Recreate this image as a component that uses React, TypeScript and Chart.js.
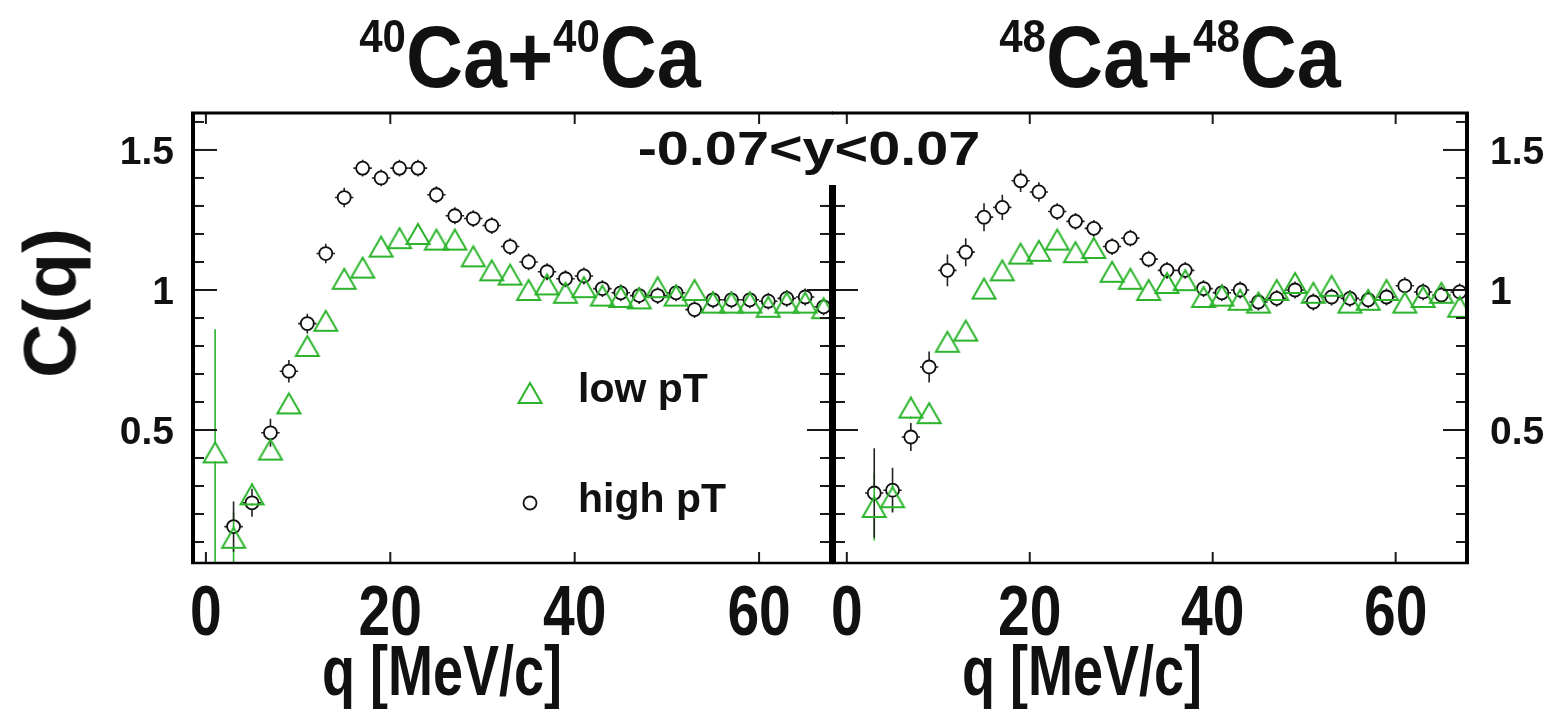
import React, { useEffect, useRef } from "react";
import { Chart, registerables } from "chart.js";
Chart.register(...registerables);

const FONT = '"Liberation Sans", Arial, Helvetica, sans-serif';
const GREEN = "#2bb42b";
const BLACK = "#111111";

// bin centres q [MeV/c]
const qAll = [1, 3, 5, 7, 9, 11, 13, 15, 17, 19, 21, 23, 25, 27, 29, 31, 33, 35, 37, 39, 41, 43, 45, 47, 49, 51, 53, 55, 57, 59, 61, 63, 65, 67];
const qFrom3 = [3, 5, 7, 9, 11, 13, 15, 17, 19, 21, 23, 25, 27, 29, 31, 33, 35, 37, 39, 41, 43, 45, 47, 49, 51, 53, 55, 57, 59, 61, 63, 65, 67];

// 40Ca+40Ca
const lowPt40 = [0.42, 0.115, 0.27, 0.43, 0.595, 0.8, 0.89, 1.04, 1.08, 1.155, 1.185, 1.2, 1.18, 1.18, 1.12, 1.07, 1.055, 1.0, 1.02, 0.99, 1.01, 0.98, 0.975, 0.97, 1.01, 0.98, 1.0, 0.955, 0.955, 0.955, 0.94, 0.955, 0.955, 0.935];
const lowPt40Err = [0.44, 0.09, 0.04, 0.03, 0.03, 0.025, 0.025, 0.02, 0.02, 0.02, 0.02, 0.02, 0.02, 0.02, 0.02, 0.02, 0.02, 0.02, 0.02, 0.02, 0.02, 0.02, 0.02, 0.02, 0.02, 0.02, 0.02, 0.02, 0.02, 0.02, 0.02, 0.02, 0.02, 0.02];
const highPt40 = [0.155, 0.24, 0.49, 0.71, 0.88, 1.13, 1.33, 1.435, 1.4, 1.435, 1.435, 1.34, 1.265, 1.255, 1.23, 1.155, 1.1, 1.065, 1.04, 1.05, 1.005, 0.99, 0.98, 0.98, 0.99, 0.93, 0.965, 0.965, 0.965, 0.96, 0.97, 0.975, 0.94];
const highPt40Err = [0.09, 0.05, 0.05, 0.04, 0.035, 0.035, 0.035, 0.03, 0.03, 0.03, 0.03, 0.03, 0.03, 0.03, 0.03, 0.03, 0.03, 0.03, 0.03, 0.03, 0.03, 0.03, 0.03, 0.03, 0.03, 0.03, 0.03, 0.03, 0.03, 0.03, 0.03, 0.03, 0.03];

// 48Ca+48Ca
const lowPt48 = [0.225, 0.26, 0.58, 0.56, 0.815, 0.855, 1.005, 1.07, 1.13, 1.14, 1.18, 1.135, 1.15, 1.065, 1.04, 1.0, 1.025, 1.035, 0.975, 0.98, 0.965, 0.955, 1.0, 1.025, 0.99, 1.015, 0.955, 0.965, 1.0, 0.955, 0.975, 0.99, 0.94];
const lowPt48Err = [0.12, 0.05, 0.04, 0.035, 0.03, 0.03, 0.025, 0.02, 0.02, 0.02, 0.02, 0.02, 0.02, 0.02, 0.02, 0.02, 0.02, 0.02, 0.02, 0.02, 0.02, 0.02, 0.02, 0.02, 0.02, 0.02, 0.02, 0.02, 0.02, 0.02, 0.02, 0.02, 0.02];
const highPt48 = [0.275, 0.285, 0.475, 0.725, 1.07, 1.135, 1.26, 1.295, 1.39, 1.35, 1.28, 1.245, 1.22, 1.155, 1.185, 1.11, 1.07, 1.07, 1.005, 0.99, 1.0, 0.957, 0.97, 1.0, 0.957, 0.975, 0.97, 0.965, 0.975, 1.015, 0.993, 0.982, 0.993];
const highPt48Err = [0.16, 0.08, 0.05, 0.055, 0.057, 0.05, 0.05, 0.045, 0.04, 0.035, 0.03, 0.03, 0.03, 0.03, 0.03, 0.03, 0.03, 0.03, 0.03, 0.03, 0.03, 0.03, 0.03, 0.03, 0.03, 0.03, 0.03, 0.03, 0.03, 0.03, 0.03, 0.03, 0.03];

// axes
const X_MIN = -1.4;
const X_MAX = 67.8;
const Y_MIN = 0.025;
const Y_MAX = 1.632;
const Q_HALF_BIN = 1;
const xMajorTicks = [0, 20, 40, 60];
const xTickLabels = ["0", "20", "40", "60"];
const yTicks = [0.1, 0.2, 0.3, 0.4, 0.5, 0.6, 0.7, 0.8, 0.9, 1.0, 1.1, 1.2, 1.3, 1.4, 1.5, 1.6];
const yMajorTicks = [0.5, 1.0, 1.5];
const yTickLabels = ["0.5", "1", "1.5"];
const seriesNames = ["low pT", "high pT"];

function pts(q: number[], v: number[]) {
  return q.map((x, i) => ({ x, y: v[i] }));
}

// open up-triangle marker, centred on its bounding box (ROOT style)
function makeTriangle(): HTMLCanvasElement {
  const c = document.createElement("canvas");
  c.width = 28;
  c.height = 26;
  const g = c.getContext("2d")!;
  g.strokeStyle = GREEN;
  g.lineWidth = 2;
  g.beginPath();
  g.moveTo(14, 3);
  g.lineTo(25.5, 23);
  g.lineTo(2.5, 23);
  g.closePath();
  g.stroke();
  return c;
}

const errorBarPlugin = {
  id: "errorBars",
  beforeDatasetsDraw(chart: any) {
    const { ctx, chartArea: a, scales } = chart;
    const xs = scales.x;
    const ys = scales.y;
    ctx.save();
    ctx.beginPath();
    ctx.rect(a.left, a.top, a.right - a.left, a.bottom - a.top);
    ctx.clip();
    chart.data.datasets.forEach((ds: any) => {
      ctx.strokeStyle = ds.errColor;
      ctx.lineWidth = 1.6;
      const g = ds.errGap;
      ds.data.forEach((p: any, i: number) => {
        const px = xs.getPixelForValue(p.x);
        const py = ys.getPixelForValue(p.y);
        const e = ds.errors[i];
        const top = ys.getPixelForValue(p.y + e);
        const bot = ys.getPixelForValue(p.y - e);
        ctx.beginPath();
        if (py - top > g) {
          ctx.moveTo(px, top);
          ctx.lineTo(px, py - g);
        }
        if (bot - py > g) {
          ctx.moveTo(px, py + g);
          ctx.lineTo(px, bot);
        }
        const xl = xs.getPixelForValue(p.x - Q_HALF_BIN);
        const xr = xs.getPixelForValue(p.x + Q_HALF_BIN);
        if (px - xl > g) {
          ctx.moveTo(xl, py);
          ctx.lineTo(px - g, py);
          ctx.moveTo(px + g, py);
          ctx.lineTo(xr, py);
        }
        ctx.stroke();
      });
    });
    ctx.restore();
  },
};

type PanelCfg = {
  inner: "left" | "right";
  labelSide: "left" | "right";
  labelX: number;
  innerTop: number;
  legend: boolean;
};

function framePlugin(cfg: PanelCfg) {
  return {
    id: "rootFrame",
    afterDatasetsDraw(chart: any) {
      const { ctx, chartArea: a, scales } = chart;
      const xs = scales.x;
      const ys = scales.y;
      ctx.save();
      ctx.strokeStyle = "#1a1a1a";
      ctx.lineWidth = 2;
      const line = (x1: number, y1: number, x2: number, y2: number) => {
        ctx.beginPath();
        ctx.moveTo(x1, y1);
        ctx.lineTo(x2, y2);
        ctx.stroke();
      };
      const leftTop = cfg.inner === "left" ? cfg.innerTop : a.top;
      const rightTop = cfg.inner === "right" ? cfg.innerTop : a.top;
      const yTickSet = (edge: number, dir: number, minY: number) => {
        yTicks.forEach((v) => {
          const py = ys.getPixelForValue(v);
          if (py < minY + 3) return;
          const major = yMajorTicks.some((m) => Math.abs(m - v) < 1e-6);
          line(edge, py, edge + dir * (major ? 24 : 11), py);
        });
      };
      yTickSet(a.left, 1, leftTop);
      yTickSet(a.right, -1, rightTop);
      xMajorTicks.forEach((v) => {
        const px = xs.getPixelForValue(v);
        line(px, a.bottom, px, a.bottom - 11);
        line(px, a.top, px, a.top + 11);
      });
      // frame
      ctx.strokeStyle = "#000";
      ctx.lineWidth = 3;
      line(a.left - 2, a.top, a.right + 2, a.top);
      ctx.lineWidth = 2.5;
      line(a.left - 2, a.bottom, a.right + 2, a.bottom);
      ctx.lineWidth = 4;
      line(a.left, leftTop, a.left, a.bottom + 1);
      line(a.right, rightTop, a.right, a.bottom + 1);

      if (cfg.legend) {
        const dsLow = chart.data.datasets[0];
        const dsHigh = chart.data.datasets[1];
        const img = dsLow.pointStyle as HTMLCanvasElement;
        ctx.drawImage(img, 530 - img.width / 2, 393 - img.height / 2);
        ctx.strokeStyle = dsHigh.borderColor;
        ctx.lineWidth = dsHigh.borderWidth;
        ctx.beginPath();
        ctx.arc(530, 503, dsHigh.pointRadius, 0, Math.PI * 2);
        ctx.stroke();
      }
      ctx.restore();
    },
    afterDraw(chart: any) {
      const { ctx, chartArea: a, scales } = chart;
      const xs = scales.x;
      const ys = scales.y;
      ctx.save();
      ctx.fillStyle = BLACK;
      ctx.font = `bold 39px ${FONT}`;
      ctx.textAlign = cfg.labelSide === "left" ? "right" : "left";
      ctx.textBaseline = "alphabetic";
      yMajorTicks.forEach((v, i) => {
        ctx.fillText(yTickLabels[i], cfg.labelX, ys.getPixelForValue(v) + 0.358 * 39);
      });
      ctx.textAlign = "center";
      ctx.font = `bold 57px ${FONT}`;
      xMajorTicks.forEach((v, i) => {
        ctx.save();
        ctx.translate(xs.getPixelForValue(v), a.bottom + 46);
        ctx.scale(1, 1.25);
        ctx.fillText(xTickLabels[i], 0, 0.358 * 57);
        ctx.restore();
      });
      ctx.restore();
    },
  };
}

function buildChart(
  canvas: HTMLCanvasElement,
  padding: { left: number; right: number; top: number; bottom: number },
  cfg: PanelCfg,
  lowQ: number[],
  low: number[],
  lowErr: number[],
  highQ: number[],
  high: number[],
  highErr: number[]
) {
  const tri = makeTriangle();
  return new Chart(canvas, {
    type: "scatter",
    data: {
      datasets: [
        {
          label: seriesNames[0],
          data: pts(lowQ, low),
          pointStyle: tri,
          pointRadius: 12,
          borderColor: GREEN,
          borderWidth: 2,
          backgroundColor: "rgba(0,0,0,0)",
          showLine: false,
          errors: lowErr,
          errGap: 9,
          errColor: GREEN,
        } as any,
        {
          label: seriesNames[1],
          data: pts(highQ, high),
          pointStyle: "circle",
          pointRadius: 6.5,
          borderColor: BLACK,
          borderWidth: 1.8,
          backgroundColor: "rgba(0,0,0,0)",
          showLine: false,
          errors: highErr,
          errGap: 6.5,
          errColor: "#222",
        } as any,
      ],
    },
    options: {
      animation: false,
      responsive: false,
      maintainAspectRatio: false,
      events: [],
      layout: { padding },
      plugins: {
        legend: { display: false },
        tooltip: { enabled: false },
        title: { display: false },
      },
      scales: {
        x: { type: "linear", min: X_MIN, max: X_MAX, display: false },
        y: { type: "linear", min: Y_MIN, max: Y_MAX, display: false },
      },
    },
    plugins: [errorBarPlugin, framePlugin(cfg)],
  });
}

function Txt(props: {
  x: number;
  y: number;
  size: number;
  sx?: number;
  sy?: number;
  rot?: number;
  anchor?: "center" | "left";
  children: React.ReactNode;
}) {
  const { x, y, size, sx = 1, sy = 1, rot = 0, anchor = "center", children } = props;
  const left = anchor === "left";
  return (
    <div
      style={{
        position: "absolute",
        left: x,
        top: y,
        fontSize: size,
        fontWeight: 700,
        fontFamily: FONT,
        lineHeight: 1,
        color: BLACK,
        whiteSpace: "nowrap",
        transformOrigin: left ? "left center" : "center center",
        transform: `translate(${left ? "0" : "-50%"},-50%) rotate(${rot}deg) scale(${sx},${sy})`,
      }}
    >
      {children}
    </div>
  );
}

function Sup(props: { children: React.ReactNode }) {
  return <span style={{ fontSize: 42, position: "relative", top: -32 }}>{props.children}</span>;
}

export default function App() {
  const leftRef = useRef<HTMLCanvasElement>(null);
  const rightRef = useRef<HTMLCanvasElement>(null);

  useEffect(() => {
    const c1 = buildChart(
      leftRef.current!,
      { left: 193, right: 14, top: 113, bottom: 158 },
      { inner: "right", labelSide: "left", labelX: 174, innerTop: 185, legend: true },
      qAll,
      lowPt40,
      lowPt40Err,
      qFrom3,
      highPt40,
      highPt40Err
    );
    const c2 = buildChart(
      rightRef.current!,
      { left: 11, right: 80, top: 113, bottom: 158 },
      { inner: "left", labelSide: "right", labelX: 670, innerTop: 185, legend: false },
      qFrom3,
      lowPt48,
      lowPt48Err,
      qFrom3,
      highPt48,
      highPt48Err
    );
    return () => {
      c1.destroy();
      c2.destroy();
    };
  }, []);

  return (
    <div style={{ position: "fixed", left: 0, top: 0, width: 1547, height: 721, background: "#fff", overflow: "hidden" }}>
      <canvas ref={leftRef} width={845} height={721} style={{ position: "absolute", left: 0, top: 0, width: 845, height: 721 }} />
      <canvas ref={rightRef} width={727} height={721} style={{ position: "absolute", left: 820, top: 0, width: 727, height: 721 }} />

      <Txt x={530} y={57} size={79} sy={1.1}>
        <Sup>40</Sup>Ca+<Sup>40</Sup>Ca
      </Txt>
      <Txt x={1170} y={57} size={79} sy={1.1}>
        <Sup>48</Sup>Ca+<Sup>48</Sup>Ca
      </Txt>

      <Txt x={50} y={303} size={75} rot={-90}>
        C(q)
      </Txt>

      <Txt x={809} y={149} size={48} sx={1.2}>
        -0.07&lt;y&lt;0.07
      </Txt>

      <Txt x={578} y={388} size={41} anchor="left">
        {seriesNames[0]}
      </Txt>
      <Txt x={578} y={498} size={41} anchor="left">
        {seriesNames[1]}
      </Txt>

      <Txt x={442} y={670} size={54} sy={1.3}>
        q [MeV/c]
      </Txt>
      <Txt x={1082} y={670} size={54} sy={1.3}>
        q [MeV/c]
      </Txt>
    </div>
  );
}
